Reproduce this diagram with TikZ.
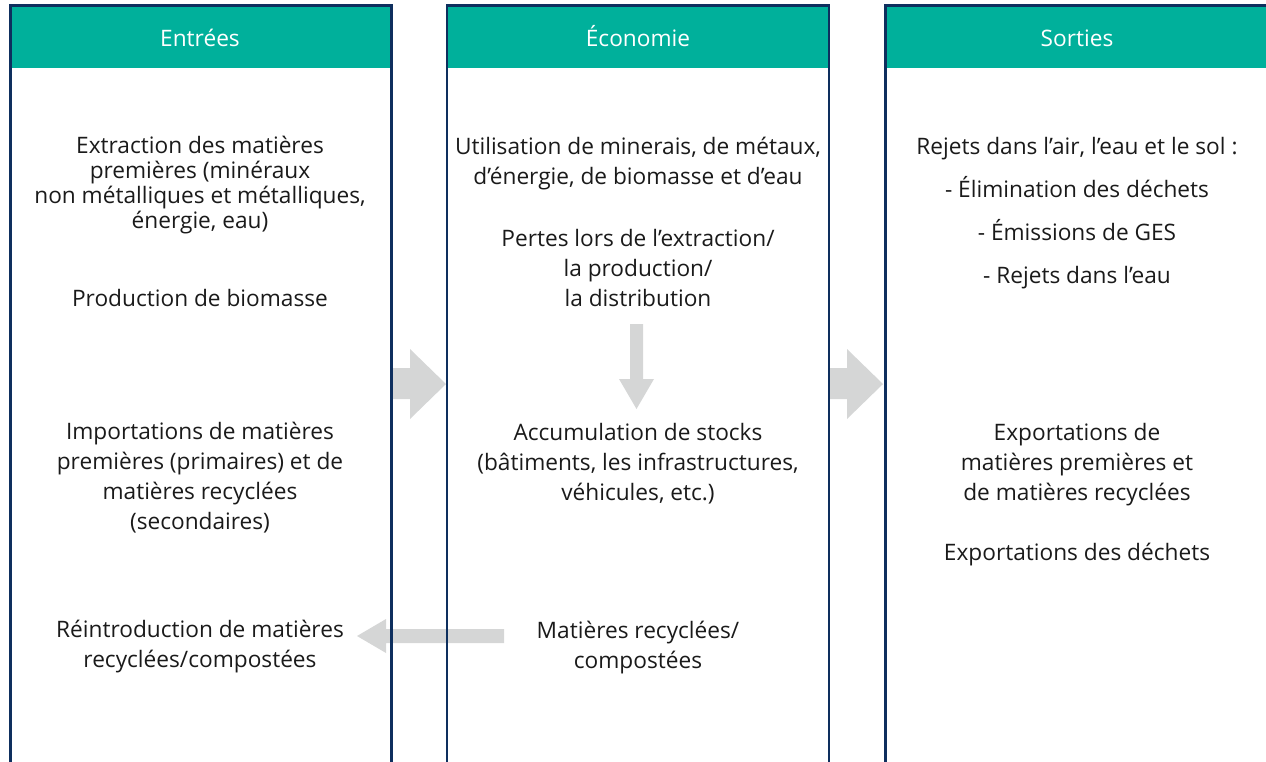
\documentclass[tikz,border=0pt]{standalone}
\usepackage{fontspec}
\setmainfont{Open Sans}
\definecolor{teal}{HTML}{00B09B}
\definecolor{navy}{HTML}{0E2F5E}
\definecolor{arrowgrey}{HTML}{D5D6D6}
\definecolor{ink}{HTML}{1A1A1A}
\begin{document}
\begin{tikzpicture}[x=0.75pt,y=-0.75pt,
  header/.style={fill=teal,draw=none},
  boxline/.style={draw=navy,line width=1.9pt},
  blockarrow/.style={fill=arrowgrey,draw=none},
  txt/.style={inner sep=0pt,align=center,text=ink,font=\fontsize{17pt}{22.5pt}\selectfont},
  tight/.style={font=\fontsize{17pt}{18.6pt}\selectfont},
  wide/.style={font=\fontsize{17pt}{32.25pt}\selectfont},
  htxt/.style={inner sep=0pt,anchor=base,text=white,font=\fontsize{17pt}{20pt}\selectfont}]
\useasboundingbox (0,0) rectangle (1266,761);
% headers
\fill[header] (10.5,5.7) rectangle (391.3,67.5);
\fill[header] (447,5.7) rectangle (829,67.5);
\fill[header] (885.5,5.7) rectangle (1275,67.5);
% block arrows
\coordinate (a1) at (391,368);
\fill[blockarrow] (a1) -- (410,368) -- (410,349) -- (446,384) -- (410,419) -- (410,399) -- (391,399) -- cycle;
\coordinate (a2) at (829,368);
\fill[blockarrow] (a2) -- (847,368) -- (847,349) -- (883,384) -- (847,419) -- (847,399) -- (829,399) -- cycle;
\coordinate (a3) at (630,324);
\fill[blockarrow] (a3) -- (643,324) -- (643,379) -- (654,379) -- (636.5,409) -- (619,379) -- (630,379) -- cycle;
\coordinate (a4) at (504,629);
\fill[blockarrow] (a4) -- (386,629) -- (386,619) -- (357,636) -- (386,653) -- (386,643) -- (504,643) -- cycle;
% box borders
\draw[boxline] (10.5,775) -- (10.5,5.7) -- (391.3,5.7) -- (391.3,775);
\draw[boxline] (447,775) -- (447,5.7) -- (829,5.7) -- (829,775);
\draw[boxline] (885.5,775) -- (885.5,5.7) -- (1275,5.7);
% header texts
\node[htxt] (h1) at (200,46) {Entrées};
\node[htxt] (h2) at (638,46) {Économie};
\node[htxt] (h3) at (1077,46) {Sorties};
% left column
\node[txt,tight] (l1) at (200,185) {Extraction des matières\\premières (minéraux\\non métalliques et métalliques,\\énergie, eau)};
\node[txt] (l2) at (200,298) {Production de biomasse};
\node[txt] (l3) at (200,478) {Importations de matières\\premières (primaires) et de\\matières recyclées\\(secondaires)};
\node[txt] (l4) at (200,647) {Réintroduction de matières\\recyclées/compostées};
% middle column
\node[txt] (m1) at (638,164) {Utilisation de minerais, de métaux,\\d’énergie, de biomasse et d’eau};
\node[txt] (m2) at (638,268) {Pertes lors de l’extraction/\\la production/\\la distribution};
\node[txt] (m3) at (638,464) {Accumulation de stocks\\(bâtiments, les infrastructures,\\véhicules, etc.)};
\node[txt] (m4) at (638,648) {Matières recyclées/\\compostées};
% right column
\node[txt,wide] (r1) at (1077,213) {Rejets dans l’air, l’eau et le sol :\\- Élimination des déchets\\- Émissions de GES\\- Rejets dans l’eau};
\node[txt] (r2) at (1077,465) {Exportations de\\matières premières et\\de matières recyclées};
\node[txt] (r3) at (1077,555) {Exportations des déchets};
\end{tikzpicture}
\end{document}
